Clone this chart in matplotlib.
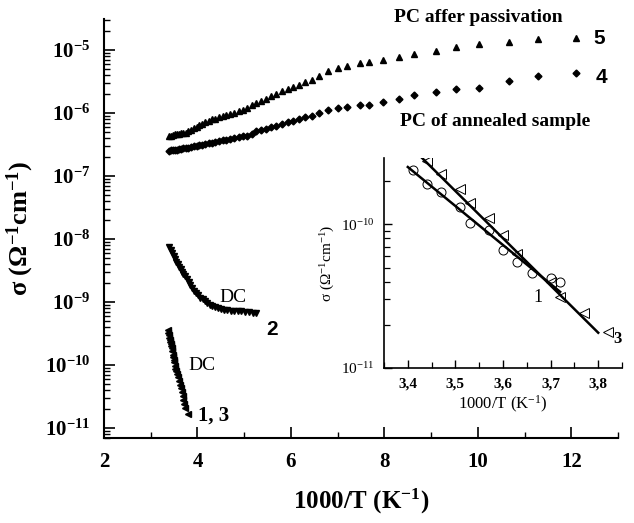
import matplotlib
matplotlib.use('Agg')
import matplotlib.pyplot as plt
import numpy as np
from matplotlib.ticker import FixedLocator, LogLocator, FuncFormatter, NullFormatter

# --- main plot data: sigma (Ohm^-1 cm^-1) vs 1000/T (K^-1) ---
# photoconductivity, curves 5 (after passivation) and 4 (annealed sample)
x_pc = [3.40, 3.44, 3.48, 3.52, 3.56, 3.60, 3.65, 3.70, 3.75, 3.80,
        3.86, 3.92, 3.98, 4.04, 4.10, 4.17, 4.24, 4.31, 4.38, 4.46,
        4.54, 4.62, 4.70, 4.79, 4.88, 4.97, 5.06, 5.16, 5.26, 5.36,
        5.47, 5.58, 5.69, 5.81, 5.93, 6.05, 6.18, 6.31, 6.45, 6.60,
        6.80, 7.00, 7.19, 7.47, 7.68, 7.97, 8.32, 8.64, 9.10, 9.54,
        10.02, 10.67, 11.28, 12.10]
sigma_5 = [4.27e-7, 4.37e-7, 4.47e-7, 4.57e-7, 4.68e-7, 4.68e-7, 4.79e-7, 4.90e-7, 4.90e-7, 5.13e-7,
           5.37e-7, 5.75e-7, 6.03e-7, 6.46e-7, 6.76e-7, 7.24e-7, 7.59e-7, 7.94e-7, 8.13e-7, 8.51e-7,
           8.91e-7, 9.33e-7, 9.55e-7, 1.00e-6, 1.07e-6, 1.12e-6, 1.20e-6, 1.32e-6, 1.45e-6, 1.58e-6,
           1.70e-6, 1.86e-6, 2.04e-6, 2.24e-6, 2.45e-6, 2.63e-6, 2.82e-6, 3.09e-6, 3.39e-6, 3.89e-6,
           4.57e-6, 5.13e-6, 5.50e-6, 6.17e-6, 6.46e-6, 6.92e-6, 7.76e-6, 8.71e-6, 9.77e-6, 1.10e-5,
           1.23e-5, 1.35e-5, 1.48e-5, 1.58e-5]
sigma_4 = [2.51e-7, 2.57e-7, 2.57e-7, 2.63e-7, 2.63e-7, 2.69e-7, 2.69e-7, 2.75e-7, 2.82e-7, 2.82e-7,
           2.88e-7, 2.95e-7, 3.02e-7, 3.09e-7, 3.16e-7, 3.24e-7, 3.31e-7, 3.39e-7, 3.47e-7, 3.55e-7,
           3.72e-7, 3.80e-7, 3.89e-7, 3.98e-7, 4.17e-7, 4.27e-7, 4.37e-7, 4.57e-7, 5.13e-7, 5.37e-7,
           5.62e-7, 6.03e-7, 6.31e-7, 6.76e-7, 7.24e-7, 7.59e-7, 7.94e-7, 8.51e-7, 9.12e-7, 1.00e-6,
           1.12e-6, 1.20e-6, 1.26e-6, 1.32e-6, 1.35e-6, 1.51e-6, 1.70e-6, 1.91e-6, 2.19e-6, 2.45e-6,
           2.51e-6, 3.24e-6, 3.89e-6, 4.37e-6]

# dark current, curve 2
x_dc2 = [3.40, 3.43, 3.46, 3.49, 3.52, 3.55, 3.58, 3.61, 3.64, 3.67,
         3.70, 3.73, 3.77, 3.81, 3.85, 3.89, 3.93, 3.97, 4.01, 4.06,
         4.11, 4.16, 4.21, 4.26, 4.32, 4.38, 4.44, 4.50, 4.57, 4.64,
         4.71, 4.78, 4.86, 4.94, 5.02, 5.10, 5.18, 5.26]
sigma_dc2 = [7.59e-9, 6.76e-9, 6.03e-9, 5.37e-9, 4.79e-9, 4.37e-9, 3.98e-9, 3.63e-9, 3.31e-9, 3.02e-9,
             2.82e-9, 2.57e-9, 2.34e-9, 2.09e-9, 1.86e-9, 1.66e-9, 1.48e-9, 1.38e-9, 1.29e-9, 1.17e-9,
             1.10e-9, 1.02e-9, 9.55e-10, 9.12e-10, 8.71e-10, 8.32e-10, 7.94e-10, 7.76e-10, 7.59e-10, 7.41e-10,
             7.24e-10, 7.24e-10, 7.08e-10, 7.08e-10, 6.92e-10, 6.92e-10, 6.76e-10, 6.76e-10]

# dark current, curves 1 and 3
x_dc13 = [3.37, 3.38, 3.39, 3.40, 3.41, 3.42, 3.43, 3.44, 3.45, 3.46,
          3.47, 3.48, 3.49, 3.50, 3.52, 3.53, 3.55, 3.56, 3.58, 3.60,
          3.62, 3.64, 3.66, 3.68, 3.70, 3.72, 3.74, 3.79]
sigma_dc13 = [3.63e-10, 3.24e-10, 2.95e-10, 2.69e-10, 2.51e-10, 2.34e-10, 2.19e-10, 2.04e-10, 1.86e-10, 1.66e-10,
              1.45e-10, 1.32e-10, 1.20e-10, 1.10e-10, 9.55e-11, 8.71e-11, 7.94e-11, 7.24e-11, 6.46e-11, 5.62e-11,
              4.90e-11, 4.27e-11, 3.72e-11, 3.24e-11, 2.82e-11, 2.40e-11, 2.09e-11, 1.66e-11]

# --- inset data: photoconductivity of annealed sample ---
x_in1 = [3.41, 3.44, 3.47, 3.51, 3.53, 3.57, 3.60, 3.63, 3.66, 3.70, 3.72]
s_in1 = [2.40e-10, 1.92e-10, 1.68e-10, 1.32e-10, 1.03e-10, 9.1e-11, 6.6e-11, 5.5e-11, 4.6e-11, 4.2e-11, 4.0e-11]
x_in3 = [3.44, 3.47, 3.51, 3.53, 3.57, 3.60, 3.63, 3.70, 3.72, 3.77, 3.82]
s_in3 = [2.78e-10, 2.25e-10, 1.77e-10, 1.41e-10, 1.10e-10, 8.5e-11, 6.2e-11, 4.0e-11, 3.1e-11, 2.4e-11, 1.77e-11]
fit1_x = [3.40, 3.72]
fit1_s = [2.51e-10, 3.39e-11]
fit3_x = [3.43, 3.80]
fit3_s = [2.90e-10, 1.76e-11]

main_xticks = [2, 4, 6, 8, 10, 12]
inset_xticks = [3.4, 3.5, 3.6, 3.7, 3.8]
inset_xlabels = ['3,4', '3,5', '3,6', '3,7', '3,8']

plt.rcParams['font.family'] = ['Liberation Serif', 'DejaVu Serif']
plt.rcParams['mathtext.fontset'] = 'custom'
plt.rcParams['mathtext.rm'] = 'Liberation Serif'
plt.rcParams['mathtext.bf'] = 'Liberation Serif:bold'
plt.rcParams['mathtext.it'] = 'Liberation Serif:italic'

fig = plt.figure(figsize=(6.34, 5.23), dpi=100)
ax = fig.add_axes([0.164, 0.1625, 0.811, 0.801])

ax.plot(x_pc, sigma_5, '^', color='k', ms=4.5, ls='none')
ax.plot(x_pc, sigma_4, 'D', color='k', ms=3.5, ls='none')
ax.plot(x_dc2, sigma_dc2, 'v', color='k', ms=4.5, ls='none')
ax.plot(x_dc13, sigma_dc13, '<', color='k', ms=4, ls='none')

ax.set_yscale('log')
ax.set_xlim(2, 13)
ax.set_ylim(6.94e-12, 3.1e-5)
ax.spines['top'].set_visible(False)
ax.spines['right'].set_visible(False)
for s in ['left', 'bottom']:
    ax.spines[s].set_linewidth(1.5)

ax.xaxis.set_major_locator(FixedLocator(main_xticks))
ax.xaxis.set_minor_locator(FixedLocator([3, 5, 7, 9, 11, 13]))
ax.yaxis.set_major_locator(LogLocator(base=10, numticks=20))
ax.yaxis.set_minor_locator(LogLocator(base=10, subs=np.arange(2, 10), numticks=20))
ax.yaxis.set_minor_formatter(NullFormatter())
ax.yaxis.set_major_formatter(FuncFormatter(lambda v, p: r'$\mathbf{10^{%d}}$' % round(np.log10(v))))
ax.tick_params(which='major', direction='in', length=8, width=1.2, labelsize=15, pad=10)
ax.tick_params(which='minor', direction='in', length=4.5, width=1.0)
for lab in ax.get_xticklabels():
    lab.set_fontweight('bold')

ax.set_xlabel(r'1000/T (K$^{\mathbf{-1}}$)', fontsize=18, fontweight='bold', labelpad=11)
ax.set_ylabel(r'σ (Ω$^{\mathbf{-1}}$cm$^{\mathbf{-1}}$)', fontsize=19, fontweight='bold', labelpad=6)

# annotations
fig.text(0.754, 0.966, 'PC affer passivation', ha='center', va='center', fontsize=14, fontweight='bold')
fig.text(0.781, 0.767, 'PC of annealed sample', ha='center', va='center', fontsize=14, fontweight='bold')
ax.text(12.6, 1.5e-5, '5', ha='center', va='center', fontsize=15, fontweight='bold', family='Liberation Sans')
ax.text(12.65, 3.6e-6, '4', ha='center', va='center', fontsize=15, fontweight='bold', family='Liberation Sans')
ax.text(4.75, 1.2e-9, 'DC', ha='center', va='center', fontsize=14)
ax.text(5.6, 3.7e-10, '2', ha='center', va='center', fontsize=15, fontweight='bold', family='Liberation Sans')
ax.text(4.1, 1.0e-10, 'DC', ha='center', va='center', fontsize=14)
ax.text(4.35, 1.6e-11, '1, 3', ha='center', va='center', fontsize=15, fontweight='bold')

# --- inset ---
axi = fig.add_axes([0.6057, 0.2964, 0.3754, 0.4015])
axi.plot(x_in1, s_in1, 'o', mfc='none', mec='k', ms=6.5, mew=0.7, ls='none')
axi.plot(x_in3, s_in3, '<', mfc='none', mec='k', ms=7.5, mew=0.7, ls='none')
axi.plot(fit1_x, fit1_s, '-', color='k', lw=1.8)
axi.plot(fit3_x, fit3_s, '-', color='k', lw=1.8)
axi.set_yscale('log')
axi.set_xlim(3.35, 3.85)
axi.set_ylim(1e-11, 2.9e-10)
axi.spines['top'].set_visible(False)
axi.spines['right'].set_visible(False)
for s in ['left', 'bottom']:
    axi.spines[s].set_linewidth(1.2)
axi.xaxis.set_major_locator(FixedLocator(inset_xticks))
axi.xaxis.set_minor_locator(FixedLocator([3.35, 3.45, 3.55, 3.65, 3.75, 3.85]))
axi.set_xticklabels(inset_xlabels, fontweight='bold')
axi.yaxis.set_major_locator(LogLocator(base=10, numticks=10))
axi.yaxis.set_minor_locator(LogLocator(base=10, subs=np.arange(2, 10), numticks=10))
axi.yaxis.set_minor_formatter(NullFormatter())
axi.yaxis.set_major_formatter(FuncFormatter(lambda v, p: r'$10^{%d}$' % round(np.log10(v))))
axi.tick_params(which='major', direction='in', length=6, width=1.0, labelsize=11, pad=7)
axi.tick_params(which='minor', direction='in', length=4, width=0.9)
axi.set_xlabel(r'1000/T (K$^{-1}$)', fontsize=12, labelpad=2)
axi.set_ylabel(r'σ (Ω$^{-1}$cm$^{-1}$)', fontsize=11, labelpad=3)
axi.text(3.673, 3.1e-11, '1', ha='center', va='center', fontsize=13)
axi.text(3.84, 1.6e-11, '3', ha='center', va='center', fontsize=12, fontweight='bold')

fig.savefig('out.png', dpi=100)
